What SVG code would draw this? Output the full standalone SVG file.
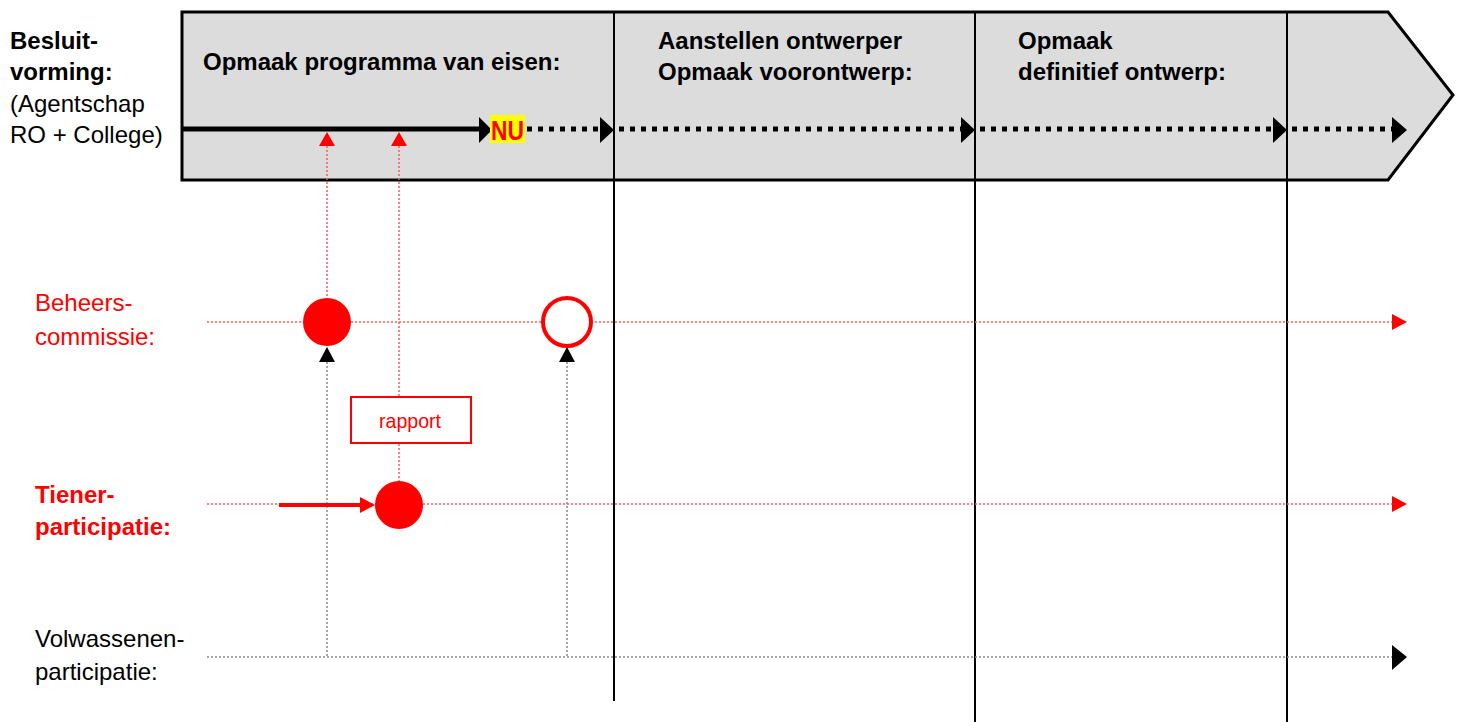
<svg xmlns="http://www.w3.org/2000/svg" width="1463" height="722" viewBox="0 0 1463 722">
<style>
text{font-family:"Liberation Sans",Arial,sans-serif;font-size:24px}
.b{font-weight:bold}
.red{fill:#ff0000}
.blk{fill:#000}
.phase{stroke:#000;stroke-width:2;fill:none}
.main{stroke:#000;stroke-width:5;fill:none}
.dotb{stroke:#000;stroke-width:5;stroke-dasharray:5 6;fill:none}
.dotr{stroke:#ff5a5a;stroke-width:1.5;stroke-dasharray:2 2;fill:none}
.dotg{stroke:#8a8a8a;stroke-width:1.5;stroke-dasharray:2 2;fill:none}
</style>
<rect width="1463" height="722" fill="#fff"/>
<g id="timeline">
<polygon points="182,12 1388,12 1453,95 1388,180 182,180" fill="#dcdcdc" stroke="#000" stroke-width="3"/>
</g>
<g id="labels-left">
<text x="10" y="49" class="b">Besluit-</text>
<text x="10" y="80" class="b">vorming:</text>
<text x="10" y="112">(Agentschap</text>
<text x="10" y="143">RO + College)</text>
<text x="35" y="311" class="red">Beheers-</text>
<text x="35" y="345" class="red">commissie:</text>
<text x="35" y="503" class="red b">Tiener-</text>
<text x="35" y="535" class="red b">participatie:</text>
<text x="35" y="647">Volwassenen-</text>
<text x="35" y="680">participatie:</text>
</g>
<g id="phase-labels">
<text x="203" y="70" class="b">Opmaak programma van eisen:</text>
<text x="658" y="49" class="b">Aanstellen ontwerper</text>
<text x="658" y="80" class="b">Opmaak voorontwerp:</text>
<text x="1018" y="49" class="b">Opmaak</text>
<text x="1018" y="80" class="b">definitief ontwerp:</text>
</g>
<g id="connectors">
<line class="phase" x1="614" y1="12" x2="614" y2="701"/>
<line class="phase" x1="975" y1="12" x2="975" y2="722"/>
<line class="phase" x1="1287" y1="12" x2="1287" y2="722"/>
<line class="main" x1="182" y1="129" x2="481" y2="129"/>
<polygon points="479,117 492,130 479,143" fill="#000"/>
<line class="dotb" x1="527" y1="129" x2="600" y2="129"/>
<polygon points="600,117 614,130 600,143" fill="#000"/>
<line class="dotb" x1="619" y1="129" x2="961" y2="129"/>
<polygon points="961,117 975,130 961,143" fill="#000"/>
<line class="dotb" x1="980" y1="129" x2="1273" y2="129"/>
<polygon points="1273,117 1287,130 1273,143" fill="#000"/>
<line class="dotb" x1="1292" y1="129" x2="1392" y2="129"/>
<polygon points="1392,117 1407,130 1392,143" fill="#000"/>
<line class="dotr" x1="207" y1="322" x2="1392" y2="322"/>
<polygon points="1392,314 1407,322 1392,330" fill="#ff0000"/>
<line class="dotr" x1="207" y1="504" x2="1392" y2="504"/>
<polygon points="1392,496 1407,504 1392,512" fill="#ff0000"/>
<line class="dotg" x1="207" y1="657" x2="1392" y2="657"/>
<polygon points="1392,645 1407,657 1392,670" fill="#000"/>
<line class="dotr" x1="327" y1="146" x2="327" y2="298"/>
<polygon points="319,146 327,132 335,146" fill="#ff0000"/>
<line class="dotr" x1="399" y1="146" x2="399" y2="396"/>
<line class="dotr" x1="399" y1="444" x2="399" y2="481"/>
<polygon points="391,146 399,132 407,146" fill="#ff0000"/>
<line class="dotg" x1="327" y1="362" x2="327" y2="657"/>
<polygon points="319,362 327,347 335,362" fill="#000"/>
<line class="dotg" x1="567" y1="362" x2="567" y2="657"/>
<polygon points="559,362 567,347 575,362" fill="#000"/>
<line x1="279" y1="505" x2="362" y2="505" stroke="#ff0000" stroke-width="4"/>
<polygon points="360,497 375,505 360,513" fill="#ff0000"/>
</g>
<g id="nu">
<rect x="490" y="115" width="35" height="28" fill="#ffff00"/>
<text x="491" y="140" class="red b" style="font-size:27px" textLength="33" lengthAdjust="spacingAndGlyphs">NU</text>
</g>
<g id="beheer-1"><circle cx="327" cy="322" r="24" fill="#ff0000"/></g>
<g id="beheer-2"><circle cx="567" cy="322" r="24" fill="#fff" stroke="#ff0000" stroke-width="4"/></g>
<g id="tiener-1"><circle cx="399" cy="505" r="24" fill="#ff0000"/></g>
<g id="rapport">
<rect x="351" y="397" width="120" height="46" fill="#fff" stroke="#ff0000" stroke-width="2"/>
<text x="379" y="428" class="red" style="font-size:21px" textLength="62" lengthAdjust="spacingAndGlyphs">rapport</text>
</g>
</svg>
